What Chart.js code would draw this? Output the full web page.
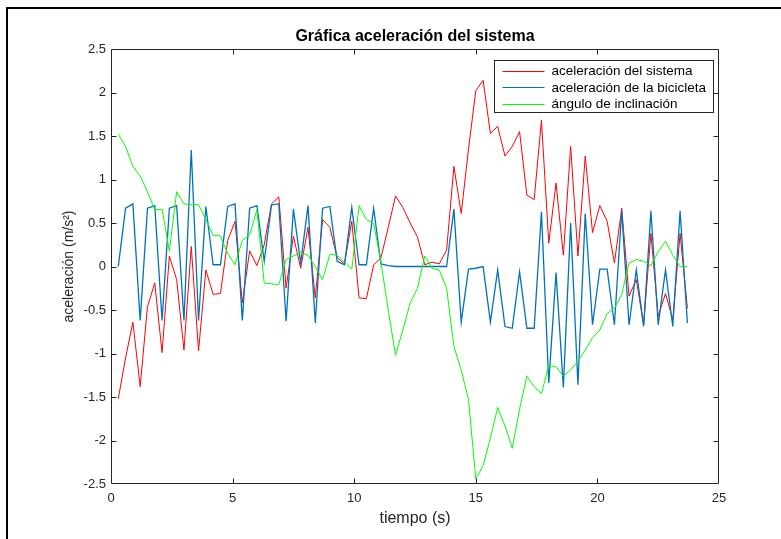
<!DOCTYPE html>
<html>
<head>
<meta charset="utf-8">
<script src="https://cdn.jsdelivr.net/npm/chart.js@4.4.1/dist/chart.umd.min.js"></script>
<style>
  html, body { margin: 0; padding: 0; background: #fff; }
  #wrap { position: relative; width: 781px; height: 539px; overflow: hidden; }
  #edge { position: absolute; left: 6px; top: 7px; right: 0; bottom: 0;
          border-top: 2px solid #000; border-left: 2px solid #000; pointer-events: none; }
  canvas { display: block; }
</style>
</head>
<body>
<div id="wrap">
  <canvas id="c" width="781" height="539"></canvas>
  <div id="edge"></div>
</div>
<script>
// ---- data ----
const tiempo = [0.3,0.6,0.9,1.2,1.5,1.8,2.1,2.4,2.7,3.0,3.3,3.6,3.9,4.2,4.5,4.8,5.1,5.4,5.7,6.0,
  6.3,6.6,6.9,7.2,7.5,7.8,8.1,8.4,8.7,9.0,9.3,9.6,9.9,10.2,10.5,10.8,11.1,11.4,11.7,12.0,
  12.3,12.6,12.9,13.2,13.5,13.8,14.1,14.4,14.7,15.0,15.3,15.6,15.9,16.2,16.5,16.8,17.1,17.4,17.7,18.0,
  18.3,18.6,18.9,19.2,19.5,19.8,20.1,20.4,20.7,21.0,21.3,21.6,21.9,22.2,22.5,22.8,23.1,23.4,23.7];

const acelSistema = [-1.52,-1.05,-0.64,-1.38,-0.46,-0.19,-0.99,0.12,-0.15,-0.96,
  0.23,-0.97,-0.04,-0.32,-0.31,0.30,0.52,-0.42,0.18,0.01,
  0.25,0.72,0.80,-0.25,0.35,-0.02,0.45,-0.36,0.54,0.45,
  0.10,0.03,0.52,-0.36,-0.37,0.02,0.10,0.45,0.81,0.68,
  0.50,0.34,0.02,0.05,0.03,0.19,1.15,0.61,1.35,2.02,
  2.14,1.53,1.61,1.27,1.38,1.55,0.82,0.77,1.68,0.27,
  0.96,0.13,1.38,0.12,1.27,0.39,0.70,0.52,0.04,0.67,
  -0.34,-0.15,-0.67,0.38,-0.57,-0.31,-0.61,0.38,-0.48];

const acelBicicleta = [0,0.67,0.72,-0.62,0.67,0.70,-0.62,0.67,0.70,-0.62,
  1.34,-0.62,0.69,0.02,0.02,0.69,0.72,-0.62,0.67,0.70,
  0.06,0.71,0.72,-0.63,0.66,0.04,0.70,-0.65,0.67,0.69,
  0.06,0.02,0.68,0.02,0.02,0.67,0.03,0.01,0.0,0.0,
  0,0,0,0,0,0,0.66,-0.64,-0.03,-0.02,
  0,-0.64,-0.04,-0.69,-0.71,-0.06,-0.71,-0.71,0.63,-1.34,
  -0.07,-1.39,0.50,-1.36,0.61,-0.67,-0.03,-0.03,-0.67,0.64,
  -0.67,-0.04,-0.69,0.64,-0.67,-0.04,-0.69,0.64,-0.65];

const anguloInclinacion = [1.52,1.38,1.15,1.04,0.86,0.65,0.66,0.18,0.86,0.72,
  0.71,0.71,0.54,0.36,0.35,0.15,0.02,0.30,0.36,0.65,
  -0.19,-0.20,-0.21,0.08,0.12,0.16,0.13,0.0,-0.15,0.14,
  0.13,0.05,-0.03,0.70,0.54,0.50,0.05,-0.50,-1.02,-0.73,
  -0.42,-0.25,0.12,-0.02,-0.04,-0.25,-0.92,-1.19,-1.53,-2.44,
  -2.29,-1.97,-1.62,-1.83,-2.09,-1.64,-1.26,-1.38,-1.46,-1.14,
  -1.15,-1.26,-1.19,-1.09,-0.96,-0.82,-0.73,-0.54,-0.48,-0.32,
  0.04,0.08,0.06,0.01,0.17,0.29,0.13,0.0,0.0];

const xTicks = [0, 5, 10, 15, 20, 25];
const yTicks = [-2.5, -2, -1.5, -1, -0.5, 0, 0.5, 1, 1.5, 2, 2.5];

const seriesNames = ['aceleración del sistema', 'aceleración de la bicicleta', 'ángulo de inclinación'];

// ---- chart ----
const FONT = '"Liberation Sans", Arial, Helvetica, sans-serif';
const AX = '#262626';
const pts = arr => tiempo.map((t, i) => ({ x: t, y: arr[i] }));

const matlabBox = {
  id: 'matlabBox',
  afterDraw(chart) {
    const { ctx, chartArea: a, scales: { x, y } } = chart;
    const L = Math.round(a.left) + 0.5, R = Math.round(a.right) - 0.5;
    const T = Math.round(a.top) + 0.5, B = Math.round(a.bottom) - 0.5;
    const tl = 5;
    ctx.save();
    ctx.strokeStyle = AX;
    ctx.lineWidth = 1;
    ctx.beginPath();
    ctx.rect(L, T, R - L, B - T);
    xTicks.forEach(v => {
      const px = Math.round(x.getPixelForValue(v)) + 0.5;
      if (px <= L + 1 || px >= R - 1) return;
      ctx.moveTo(px, B); ctx.lineTo(px, B - tl);
      ctx.moveTo(px, T); ctx.lineTo(px, T + tl);
    });
    yTicks.forEach(v => {
      const py = Math.round(y.getPixelForValue(v)) + 0.5;
      if (py <= T + 1 || py >= B - 1) return;
      ctx.moveTo(L, py); ctx.lineTo(L + tl, py);
      ctx.moveTo(R, py); ctx.lineTo(R - tl, py);
    });
    ctx.stroke();

    // legend box (top right, inside axes)
    const bx = Math.round(a.right) - 224.5, by = Math.round(a.top) + 11.5;
    const bw = 219, bh = 52;
    ctx.fillStyle = '#fff';
    ctx.fillRect(bx, by, bw, bh);
    ctx.strokeStyle = AX;
    ctx.strokeRect(bx, by, bw, bh);
    ctx.font = '13.5px ' + FONT;
    ctx.textBaseline = 'middle';
    ctx.textAlign = 'left';
    chart.data.datasets.forEach((ds, i) => {
      const ry = by + 10.5 + i * 16.3;
      ctx.strokeStyle = ds.borderColor;
      ctx.lineWidth = 1;
      ctx.beginPath();
      ctx.moveTo(bx + 8, Math.round(ry) + 0.5);
      ctx.lineTo(bx + 50, Math.round(ry) + 0.5);
      ctx.stroke();
      ctx.fillStyle = '#000';
      ctx.fillText(ds.label, bx + 57, ry + 0.5);
    });
    ctx.restore();
  }
};

new Chart(document.getElementById('c'), {
  type: 'line',
  data: {
    datasets: [
      { label: seriesNames[0], data: pts(acelSistema), borderColor: '#ff0000', borderWidth: 1, order: 3 },
      { label: seriesNames[1], data: pts(acelBicicleta), borderColor: '#0072bd', borderWidth: 1.3, order: 2 },
      { label: seriesNames[2], data: pts(anguloInclinacion), borderColor: '#00ff00', borderWidth: 1, order: 1 }
    ]
  },
  options: {
    responsive: false,
    animation: false,
    devicePixelRatio: 1,
    layout: { padding: { left: 0, right: 62, top: 0, bottom: 0 } },
    elements: { point: { radius: 0 }, line: { tension: 0, fill: false } },
    plugins: {
      legend: { display: false },
      tooltip: { enabled: false },
      title: {
        display: true,
        fullSize: false,
        text: 'Gráfica aceleración del sistema',
        color: '#000',
        font: { family: FONT, size: 16, weight: 'bold' },
        padding: { top: 27, bottom: 2.8 }
      }
    },
    scales: {
      x: {
        type: 'linear',
        min: 0, max: 25,
        afterBuildTicks: s => { s.ticks = xTicks.map(v => ({ value: v })); },
        afterFit: s => { s.height = 55; },
        grid: { display: false, drawTicks: false },
        border: { display: false },
        ticks: { color: AX, font: { family: FONT, size: 13 }, padding: 7, maxRotation: 0,
                  callback: v => String(v) },
        title: { display: true, text: 'tiempo (s)', color: AX,
                 font: { family: FONT, size: 16 }, padding: { top: 0, bottom: 10.5 } }
      },
      y: {
        type: 'linear',
        min: -2.5, max: 2.5,
        afterBuildTicks: s => { s.ticks = yTicks.map(v => ({ value: v })); },
        afterFit: s => { s.width = 111; },
        grid: { display: false, drawTicks: false },
        border: { display: false },
        ticks: { color: AX, font: { family: FONT, size: 13 }, padding: 5,
                  callback: v => String(Math.round(v * 10) / 10) },
        title: { display: true, text: 'aceleración (m/s²)', color: AX,
                 font: { family: FONT, size: 14 }, padding: { top: 61, bottom: 0 } }
      }
    }
  },
  plugins: [matlabBox]
});
</script>
</body>
</html>
